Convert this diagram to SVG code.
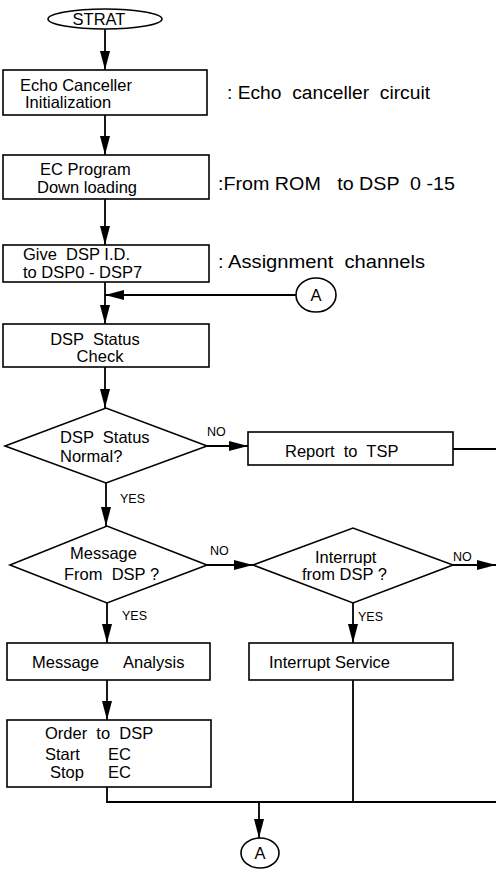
<svg xmlns="http://www.w3.org/2000/svg" width="496" height="871" viewBox="0 0 496 871" xml:space="preserve">
<style>
  .bg { fill: #ffffff; }
  .shape { fill: #ffffff; stroke: #000000; stroke-width: 1.6; }
  .conn { fill: none; stroke: #000000; stroke-width: 1.8; }
  .t { font-family: "Liberation Sans", Arial, sans-serif; font-size: 16.5px; fill: #000000; white-space: pre; }
  .note { font-family: "Liberation Sans", Arial, sans-serif; font-size: 18px; fill: #000000; white-space: pre; }
  .lbl { font-family: "Liberation Sans", Arial, sans-serif; font-size: 12.5px; fill: #000000; }
  .mid { text-anchor: middle; }
</style>
<defs>
  <marker id="arr" markerUnits="userSpaceOnUse" markerWidth="20" markerHeight="12" refX="19" refY="5" orient="auto">
    <path d="M0,0 L19,5 L0,10 Z" fill="#000000"/>
  </marker>
</defs>
<rect class="bg" x="0" y="0" width="496" height="871"/>

<g id="connectors">
  <line class="conn" x1="105" y1="29" x2="105" y2="70" marker-end="url(#arr)"/>
  <line class="conn" x1="105" y1="115" x2="105" y2="155" marker-end="url(#arr)"/>
  <line class="conn" x1="105" y1="199" x2="105" y2="245" marker-end="url(#arr)"/>
  <line class="conn" x1="105" y1="282" x2="105" y2="324" marker-end="url(#arr)"/>
  <line class="conn" x1="296" y1="295" x2="105" y2="295" marker-end="url(#arr)"/>
  <line class="conn" x1="105" y1="367" x2="105" y2="408" marker-end="url(#arr)"/>
  <line class="conn" x1="207" y1="446" x2="248" y2="446" marker-end="url(#arr)"/>
  <line class="conn" x1="453" y1="449" x2="496" y2="449"/>
  <line class="conn" x1="106" y1="483" x2="106" y2="526" marker-end="url(#arr)"/>
  <line class="conn" x1="207" y1="565" x2="253" y2="565" marker-end="url(#arr)"/>
  <line class="conn" x1="453" y1="565" x2="496" y2="565" marker-end="url(#arr)"/>
  <line class="conn" x1="107" y1="603" x2="107" y2="643" marker-end="url(#arr)"/>
  <line class="conn" x1="353" y1="603" x2="353" y2="643" marker-end="url(#arr)"/>
  <line class="conn" x1="107" y1="680" x2="107" y2="720" marker-end="url(#arr)"/>
  <polyline class="conn" points="107,787 107,802 496,802"/>
  <line class="conn" x1="353" y1="680" x2="353" y2="802"/>
  <line class="conn" x1="259" y1="802" x2="259" y2="838" marker-end="url(#arr)"/>
  <text class="lbl" x="207" y="436">NO</text>
  <text class="lbl" x="120" y="503">YES</text>
  <text class="lbl" x="210" y="555">NO</text>
  <text class="lbl" x="453" y="561">NO</text>
  <text class="lbl" x="122" y="620">YES</text>
  <text class="lbl" x="358" y="621">YES</text>
</g>

<g id="start">
  <ellipse class="shape" cx="105" cy="19" rx="57" ry="10"/>
  <text class="t mid" x="99" y="25">STRAT</text>
</g>

<g id="echo-init">
  <rect class="shape" x="3" y="70" width="204" height="45"/>
  <text class="t" x="20" y="91">Echo Canceller</text>
  <text class="t" x="25" y="108">Initialization</text>
</g>
<text id="note-echo" class="note" x="227" y="99" textLength="203" lengthAdjust="spacingAndGlyphs">: Echo  canceller  circuit</text>

<g id="ec-download">
  <rect class="shape" x="3" y="155" width="206" height="44"/>
  <text class="t" x="40" y="175">EC Program</text>
  <text class="t" x="37" y="193">Down loading</text>
</g>
<text id="note-rom" class="note" x="218" y="190" textLength="237" lengthAdjust="spacingAndGlyphs">:From ROM   to DSP  0 -15</text>

<g id="give-id">
  <rect class="shape" x="3" y="245" width="206" height="37"/>
  <text class="t" x="23" y="260">Give  DSP I.D.</text>
  <text class="t" x="23" y="278">to DSP0 - DSP7</text>
</g>
<text id="note-assign" class="note" x="218" y="268" textLength="207" lengthAdjust="spacingAndGlyphs">: Assignment  channels</text>

<g id="conn-a-top">
  <ellipse class="shape" cx="316" cy="295" rx="20" ry="17"/>
  <text class="t mid" x="316" y="301">A</text>
</g>

<g id="status-check">
  <rect class="shape" x="3" y="324" width="206" height="43"/>
  <text class="t mid" x="95" y="345">DSP  Status</text>
  <text class="t mid" x="100" y="362">Check</text>
</g>

<g id="status-normal">
  <polygon class="shape" points="5,446 106,408 207,446 106,483"/>
  <text class="t" x="60" y="443">DSP  Status</text>
  <text class="t" x="60" y="462">Normal?</text>
</g>

<g id="report-tsp">
  <rect class="shape" x="248" y="432" width="205" height="33"/>
  <text class="t" x="285" y="457">Report  to  TSP</text>
</g>

<g id="msg-from-dsp">
  <polygon class="shape" points="10,565 107,526 207,565 107,603"/>
  <text class="t" x="70" y="559">Message</text>
  <text class="t" x="64" y="580">From  DSP ?</text>
</g>

<g id="int-from-dsp">
  <polygon class="shape" points="253,565 353,528 453,565 353,603"/>
  <text class="t" x="315" y="563">Interrupt</text>
  <text class="t" x="302" y="580">from DSP ?</text>
</g>

<g id="msg-analysis">
  <rect class="shape" x="7" y="643" width="203" height="37"/>
  <text class="t" x="32" y="668">Message</text>
  <text class="t" x="123" y="668">Analysis</text>
</g>

<g id="int-service">
  <rect class="shape" x="249" y="643" width="204" height="37"/>
  <text class="t" x="269" y="668">Interrupt Service</text>
</g>

<g id="order-dsp">
  <rect class="shape" x="7" y="720" width="204" height="67"/>
  <text class="t" x="45" y="739">Order  to  DSP</text>
  <text class="t" x="45" y="760">Start</text>
  <text class="t" x="108" y="760">EC</text>
  <text class="t" x="50" y="778">Stop</text>
  <text class="t" x="108" y="778">EC</text>
</g>

<g id="conn-a-bottom">
  <ellipse class="shape" cx="260" cy="853" rx="19" ry="15"/>
  <text class="t mid" x="260" y="859">A</text>
</g>
</svg>
